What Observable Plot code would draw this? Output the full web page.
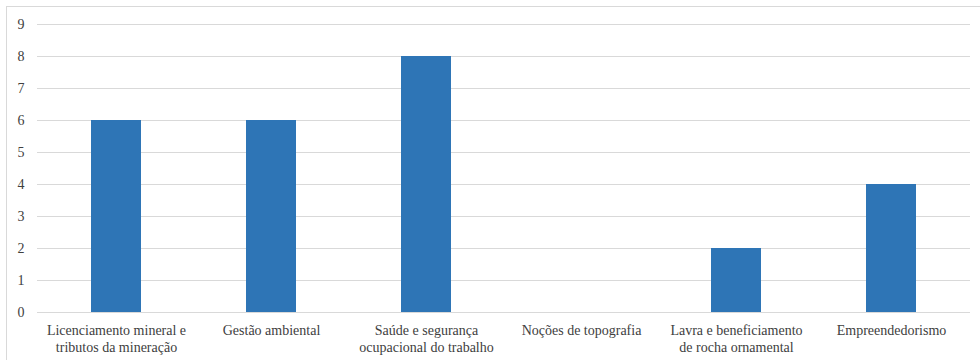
<!DOCTYPE html>
<html>
<head>
<meta charset="utf-8">
<script src="https://cdn.jsdelivr.net/npm/d3@7"></script>
<script src="https://cdn.jsdelivr.net/npm/@observablehq/plot@0.6"></script>
<style>
  html, body { margin: 0; padding: 0; background: #fff; overflow: hidden; }
  #wrap { position: relative; width: 980px; height: 360px; }
  #border { position: absolute; left: 6px; top: 6px; width: 1000px; height: 400px; border: 1px solid #d9d9d9; box-sizing: border-box; }
  #chart { position: absolute; left: 0; top: 0; }
</style>
</head>
<body>
<div id="wrap"><div id="border"></div><div id="chart"></div></div>
<script>
const categories = [
  "Licenciamento mineral e\ntributos da mineração",
  "Gestão ambiental",
  "Saúde e segurança\nocupacional do trabalho",
  "Noções de topografia",
  "Lavra e beneficiamento\nde rocha ornamental",
  "Empreendedorismo"
];
const values = [6, 6, 8, 0, 2, 4];
const yTicks = [0, 1, 2, 3, 4, 5, 6, 7, 8, 9];

const data = categories.map((c, i) => ({category: c, value: values[i]}));

const chart = Plot.plot({
  width: 980,
  height: 360,
  marginLeft: 37,
  marginRight: 10,
  marginTop: 24,
  marginBottom: 48,
  style: {fontFamily: "Liberation Serif", fontSize: "14px", color: "#404040", background: "transparent"},
  x: {domain: categories, paddingInner: 0.68, paddingOuter: 0.34, align: 0.5},
  y: {domain: [0, 9]},
  marks: [
    Plot.gridY(yTicks, {stroke: "#d9d9d9", strokeOpacity: 1}),
    Plot.barY(data, {x: "category", y: "value", fill: "#2E75B6"}),
    Plot.ruleY([0], {stroke: "#d9d9d9", strokeOpacity: 1}),
    Plot.axisY(yTicks, {tickSize: 0, tickPadding: 13, label: null, fill: "#404040", fontSize: 14, fontFamily: "Liberation Serif"}),
    Plot.axisX({tickSize: 0, tickPadding: 10, label: null, fill: "#404040", fontSize: 14, fontFamily: "Liberation Serif", lineHeight: 1.25})
  ]
});
document.getElementById("chart").appendChild(chart);
</script>
</body>
</html>
